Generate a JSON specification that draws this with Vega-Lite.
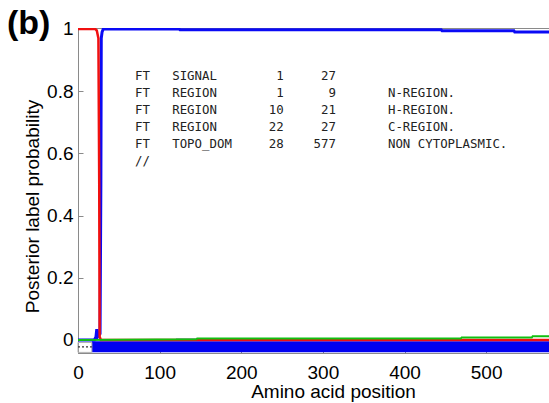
{
  "$schema": "https://vega.github.io/schema/vega-lite/v6.json",
  "width": 471,
  "height": 325,
  "autosize": {"type": "none"},
  "padding": {"left": 78, "top": 28, "right": 0, "bottom": 50},
  "background": "white",
  "title": {"text": "(b)", "anchor": "start", "frame": "group", "fontSize": 34, "fontWeight": "bold", "font": "Liberation Sans", "color": "black", "dx": -71, "dy": 36, "offset": -12, "baseline": "alphabetic"},
  "config": {
    "font": "Liberation Sans",
    "view": {"stroke": "#8a8a8a", "strokeWidth": 1},
    "axis": {"domainColor": "#8a8a8a", "tickColor": "#8a8a8a", "grid": false, "labelColor": "black", "titleColor": "black", "labelFont": "Liberation Sans", "titleFont": "Liberation Sans", "labelFontSize": 19, "titleFontSize": 19, "titleFontWeight": "normal", "tickSize": -5, "labelFlush": false, "labelOverlap": false}
  },
  "datasets": {
    "signal": [
      {"pos": 0, "p": 1}, {"pos": 21, "p": 1}, {"pos": 23, "p": 0.995}, {"pos": 25, "p": 0.97}, {"pos": 26, "p": 0.5}, {"pos": 26.5, "p": 0.01}, {"pos": 28, "p": 0}, {"pos": 577, "p": 0}
    ],
    "noncyto": [
      {"pos": 0, "p": 0}, {"pos": 20, "p": 0}, {"pos": 22, "p": 0.01}, {"pos": 23, "p": 0.035}, {"pos": 24, "p": 0.01}, {"pos": 27, "p": 0.02}, {"pos": 28, "p": 0.5}, {"pos": 28.5, "p": 0.97}, {"pos": 29.5, "p": 0.99}, {"pos": 31, "p": 1}, {"pos": 124, "p": 1}, {"pos": 125, "p": 0.997}, {"pos": 445, "p": 0.997}, {"pos": 446, "p": 0.994}, {"pos": 534, "p": 0.994}, {"pos": 535, "p": 0.99}, {"pos": 577, "p": 0.99}
    ],
    "other": [
      {"pos": 120, "p": 0.003}, {"pos": 145, "p": 0.003}
    ],
    "cyto": [
      {"pos": 0, "p": 0}, {"pos": 145, "p": 0.002}, {"pos": 146, "p": 0.005}, {"pos": 469, "p": 0.005}, {"pos": 470, "p": 0.008}, {"pos": 556, "p": 0.008}, {"pos": 557, "p": 0.012}, {"pos": 577, "p": 0.012}
    ],
    "annot": [
      {"p": 0.849, "ft": "FT", "key": "SIGNAL", "from": "1", "to": "27", "desc": ""},
      {"p": 0.794, "ft": "FT", "key": "REGION", "from": "1", "to": "9", "desc": "N-REGION."},
      {"p": 0.740, "ft": "FT", "key": "REGION", "from": "10", "to": "21", "desc": "H-REGION."},
      {"p": 0.685, "ft": "FT", "key": "REGION", "from": "22", "to": "27", "desc": "C-REGION."},
      {"p": 0.630, "ft": "FT", "key": "TOPO_DOM", "from": "28", "to": "577", "desc": "NON CYTOPLASMIC."},
      {"p": 0.575, "ft": "//", "key": "", "from": "", "to": "", "desc": ""}
    ],
    "topology": [
      {"start": 17, "end": 577, "level": -0.022}
    ],
    "signalbox": [
      {"start": 0, "end": 17, "top": -0.008, "bottom": -0.04, "level": -0.022}
    ]
  },
  "layer": [
    {
      "data": {"name": "topology"},
      "mark": {"type": "rule", "color": "#0000f0", "strokeWidth": 11, "clip": true},
      "encoding": {
        "x": {"field": "start", "type": "quantitative", "scale": {"domain": [0, 577], "nice": false, "zero": false},
          "axis": {"values": [0, 100, 200, 300, 400, 500], "title": "Amino acid position", "labelPadding": 15, "titlePadding": 0, "titleX": 255, "titleAlign": "center"}},
        "x2": {"field": "end"},
        "y": {"field": "level", "type": "quantitative", "scale": {"domain": [-0.042, 1.003], "nice": false, "zero": false},
          "axis": {"values": [0, 0.2, 0.4, 0.6, 0.8, 1], "labelExpr": "'' + datum.value", "title": "Posterior label probability", "labelPadding": 10, "titlePadding": 4, "titleY": 178}}
      }
    },
    {
      "data": {"name": "signalbox"},
      "mark": {"type": "rect", "fill": null, "fillOpacity": 0, "stroke": "#b0b0b0", "strokeWidth": 1},
      "encoding": {
        "x": {"field": "start", "type": "quantitative"},
        "x2": {"field": "end"},
        "y": {"field": "top", "type": "quantitative"},
        "y2": {"field": "bottom"}
      }
    },
    {
      "data": {"name": "signalbox"},
      "mark": {"type": "rule", "color": "#333333", "strokeWidth": 1.2, "strokeDash": [2, 2]},
      "encoding": {
        "x": {"field": "start", "type": "quantitative"},
        "x2": {"field": "end"},
        "y": {"field": "level", "type": "quantitative"}
      }
    },
    {
      "data": {"name": "noncyto"},
      "mark": {"type": "line", "color": "#0a0af5", "strokeWidth": 3, "clip": true},
      "encoding": {
        "x": {"field": "pos", "type": "quantitative"},
        "y": {"field": "p", "type": "quantitative"}
      }
    },
    {
      "data": {"name": "signal"},
      "mark": {"type": "line", "color": "#f01010", "strokeWidth": 2.5, "clip": true},
      "encoding": {
        "x": {"field": "pos", "type": "quantitative"},
        "y": {"field": "p", "type": "quantitative"}
      }
    },
    {
      "data": {"name": "other"},
      "mark": {"type": "line", "color": "#a0a0a0", "strokeWidth": 2, "clip": true},
      "encoding": {
        "x": {"field": "pos", "type": "quantitative"},
        "y": {"field": "p", "type": "quantitative"}
      }
    },
    {
      "data": {"name": "cyto"},
      "mark": {"type": "line", "color": "#10c010", "strokeWidth": 2, "clip": true},
      "encoding": {
        "x": {"field": "pos", "type": "quantitative"},
        "y": {"field": "p", "type": "quantitative"}
      }
    },
    {
      "data": {"name": "annot"},
      "mark": {"type": "text", "font": "DejaVu Sans Mono", "fontSize": 12.4, "align": "left", "baseline": "middle", "color": "#222222"},
      "encoding": {"x": {"datum": 69.8}, "y": {"field": "p", "type": "quantitative"}, "text": {"field": "ft"}}
    },
    {
      "data": {"name": "annot"},
      "mark": {"type": "text", "font": "DejaVu Sans Mono", "fontSize": 12.4, "align": "left", "baseline": "middle", "color": "#222222"},
      "encoding": {"x": {"datum": 115.4}, "y": {"field": "p", "type": "quantitative"}, "text": {"field": "key"}}
    },
    {
      "data": {"name": "annot"},
      "mark": {"type": "text", "font": "DejaVu Sans Mono", "fontSize": 12.4, "align": "right", "baseline": "middle", "color": "#222222"},
      "encoding": {"x": {"datum": 252.1}, "y": {"field": "p", "type": "quantitative"}, "text": {"field": "from"}}
    },
    {
      "data": {"name": "annot"},
      "mark": {"type": "text", "font": "DejaVu Sans Mono", "fontSize": 12.4, "align": "right", "baseline": "middle", "color": "#222222"},
      "encoding": {"x": {"datum": 315.9}, "y": {"field": "p", "type": "quantitative"}, "text": {"field": "to"}}
    },
    {
      "data": {"name": "annot"},
      "mark": {"type": "text", "font": "DejaVu Sans Mono", "fontSize": 12.4, "align": "left", "baseline": "middle", "color": "#222222"},
      "encoding": {"x": {"datum": 379.7}, "y": {"field": "p", "type": "quantitative"}, "text": {"field": "desc"}}
    }
  ]
}
